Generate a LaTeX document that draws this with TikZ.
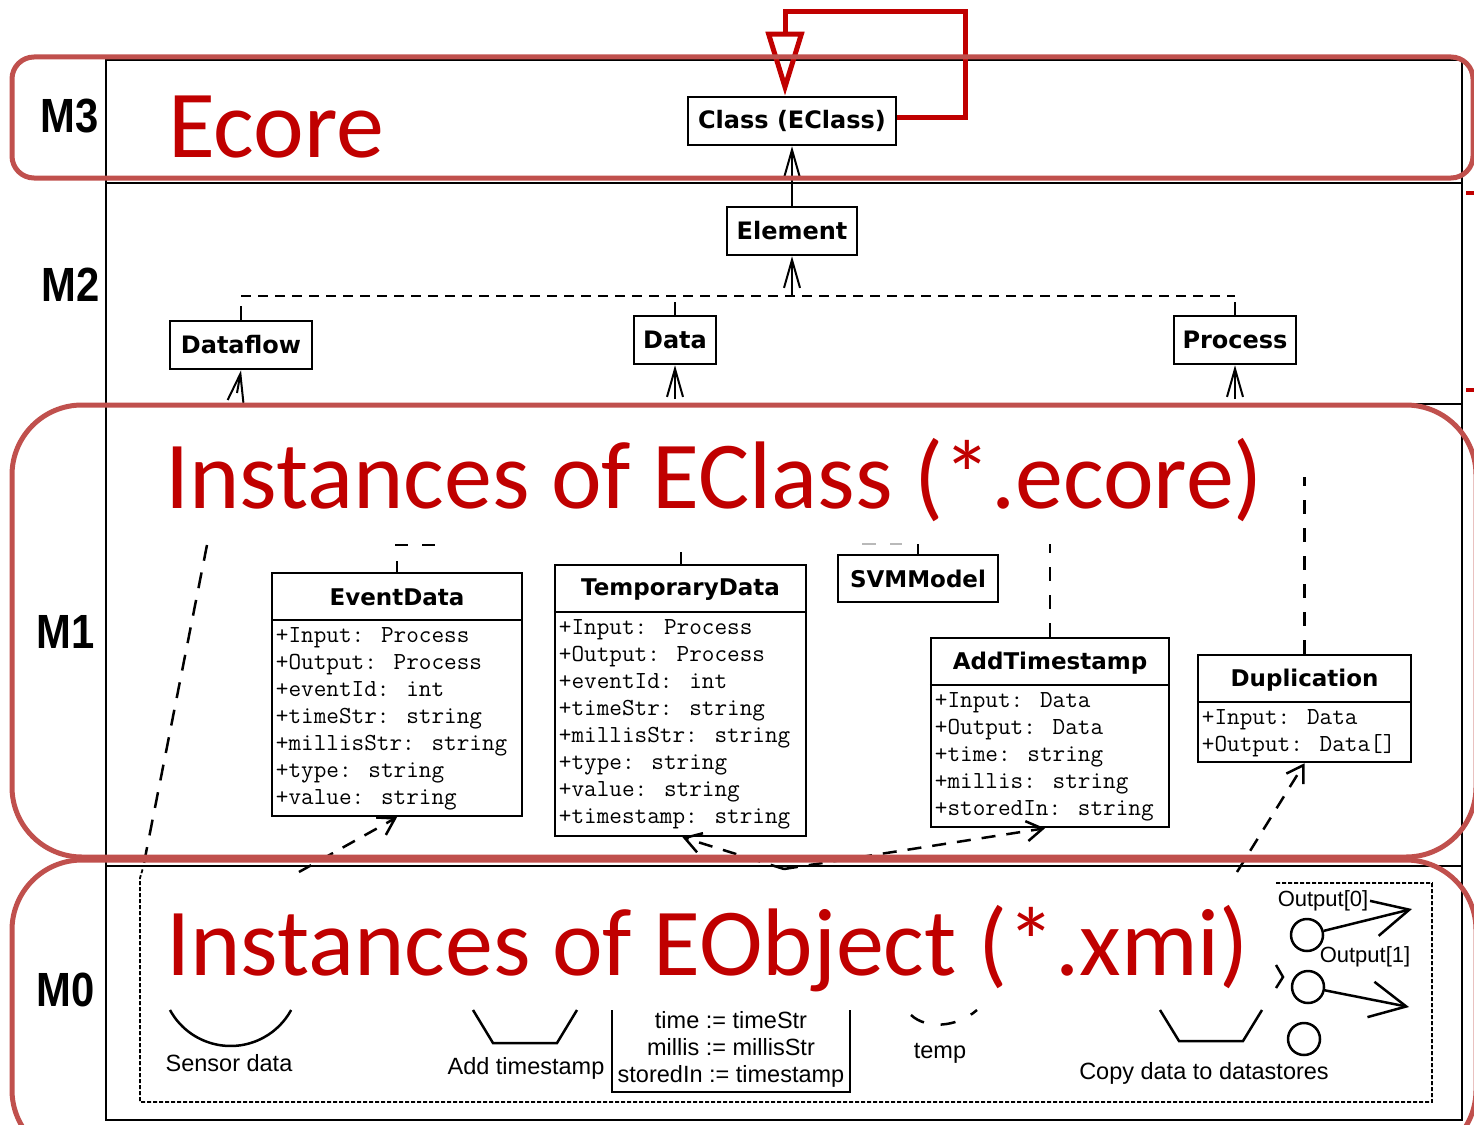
\documentclass[tikz,border=0pt]{standalone}
\usepackage{fontspec}
\usetikzlibrary{arrows.meta}
\setmainfont{Liberation Sans}
\newfontfamily\layerfont[FakeStretch=0.87]{Liberation Sans}
\newfontfamily\classfont{DejaVu Sans}
\newfontfamily\headfont{Carlito}
\definecolor{bandred}{HTML}{C0504D}
\definecolor{headred}{HTML}{C00000}

\tikzset{
  frameline/.style={line width=2.5pt, black},
  band/.style={draw=bandred, line width=5pt},
  layer/.style={font=\layerfont\bfseries\fontsize{48}{50}\selectfont, inner sep=0pt},
  heading/.style={font=\headfont\fontsize{96}{110}\selectfont, text=headred, inner sep=0pt, anchor=base west},
  metabox/.style={draw, line width=2.5pt, fill=white, inner sep=0pt, font=\classfont\bfseries\fontsize{24}{28}\selectfont},
  classframe/.style={draw, line width=2.5pt, inner sep=0pt},
  classname/.style={font=\classfont\bfseries\fontsize{23}{26}\selectfont, inner sep=0pt},
  attr/.style={font=\ttfamily\fontsize{24.5}{27}\selectfont, inner sep=0pt, anchor=base west},
  inherit/.style={line width=2pt, -{Straight Barb[length=28pt,width=16pt]}},
  stub/.style={line width=2pt},
  treeline/.style={line width=2.5pt, dash pattern=on 10pt off 7pt},
  instof/.style={line width=2.5pt, dash pattern=on 14pt off 11pt, -{Straight Barb[length=16pt,width=20pt]}},
  longdash/.style={line width=2.5pt, dash pattern=on 14pt off 14pt},
  mlabel/.style={font=\fontsize{23.5}{27}\selectfont, inner sep=0pt},
  shapeline/.style={line width=2.5pt},
  port/.style={draw, circle, line width=2.5pt, minimum size=32pt, inner sep=0pt},
  outflow/.style={line width=2.5pt, -{Straight Barb[length=36pt,width=36pt]}},
  selfloop/.style={draw=headred, line width=5pt, line join=miter, -{Triangle[open, length=64pt, width=38pt]}},
  portbox/.style={line width=1.8pt, dash pattern=on 4pt off 2pt},
}

% class with a 48pt header and one attribute per line
\newcommand\umlclass[6]{%
  \node[classframe, minimum width=#3pt, minimum height=#4pt] (#1) at (#2) {};
  \draw[stub] ([yshift=-48pt]#1.north west) -- ([yshift=-48pt]#1.north east);
  \node[classname] at ([yshift=-26pt]#1.north) {#5};
  \foreach \a [count=\i from 0] in {#6}
    \node[attr] at ([xshift=5pt, yshift={-71pt-27pt*\i}]#1.north west) {\a};
}

\begin{document}
\begin{tikzpicture}[x=1pt,y=-1pt]
\useasboundingbox (0,0) rectangle (1474,1124);

% frame of the four layers
\draw[frameline] (106,60) rectangle (1462,1120);
\draw[frameline] (106,183) -- (1462,183);
\draw[frameline] (106,404) -- (1462,404);
\draw[frameline] (106,866) -- (1462,866);

% layer names
\node[layer] at (70,116) {M3};
\node[layer] at (71,285) {M2};
\node[layer] at (66,632) {M1};
\node[layer] at (66,990) {M0};

% ---------- M3 ----------
\node[heading] at (168,157) {Ecore};
\node[metabox, minimum width=208pt, minimum height=48pt] (eclass) at (792,121) {Class (EClass)};
\draw[selfloop] ([yshift=4pt]eclass.east) -- (965,117) -- (965,12) -- (785,12) -- ([xshift=-7pt]eclass.north);

% ---------- M2 ----------
\node[metabox, minimum width=130pt, minimum height=48pt] (element) at (792,231) {Element};
\node[metabox, minimum width=142pt, minimum height=48pt] (dataflow) at (241,345) {Dataflow};
\node[metabox, minimum width=82pt, minimum height=48pt] (data) at (675,340) {Data};
\node[metabox, minimum width=122pt, minimum height=48pt] (process) at (1235,340) {Process};

\coordinate (tree) at (792,296);
\draw[treeline] (dataflow.north |- tree) -- (process.north |- tree);
\draw[stub] (dataflow.north) -- ++(0,-14);
\draw[stub] (data.north) -- ++(0,-13);
\draw[stub] (process.north) -- ++(0,-13);
\draw[inherit] (tree) -- (element.south);
\draw[inherit] (element.north) -- (eclass.south);

\coordinate (dfin) at (237,393);
\coordinate (dain) at (675,399);
\coordinate (prin) at (1235,399);
\draw[inherit] (dfin) -- (dataflow.south);
\draw[inherit] (dain) -- (data.south);
\draw[inherit] (prin) -- (process.south);

% ---------- M1 ----------
\node[heading] at (165,508) {Instances of EClass (*.ecore)};

\umlclass{eventdata}{397,694.5}{250}{243}{EventData}{+Input: Process,+Output: Process,+eventId: int,+timeStr: string,+millisStr: string,+type: string,+value: string}
\umlclass{tempdata}{680.5,700.5}{251}{271}{TemporaryData}{+Input: Process,+Output: Process,+eventId: int,+timeStr: string,+millisStr: string,+type: string,+value: string,+timestamp: string}
\umlclass{addts}{1050,732.5}{238}{189}{AddTimestamp}{+Input: Data,+Output: Data,+time: string,+millis: string,+storedIn: string}
\umlclass{dup}{1304.5,708.5}{213}{107}{Duplication}{+Input: Data,+Output: Data[]}
\node[classframe, classname, minimum width=160pt, minimum height=47pt] (svm) at (918,578.5) {SVMModel};

\draw[stub] (eventdata.north) -- ++(0,-11);
\draw[treeline, dash pattern=on 13pt off 14pt] ([xshift=-2pt, yshift=27pt]eventdata.north) -- ++(41,0);
\draw[stub] (tempdata.north) -- ++(0,-12);
\draw[stub] (svm.north) -- ++(0,-10);
\draw[treeline, gray!55, dash pattern=on 14pt off 14pt] ([xshift=-56pt, yshift=10pt]svm.north) -- ++(40,0);
\draw[longdash] (addts.north) -- ++(0,-93);
\draw[longdash] (dup.north) -- ++(0,-177);

\coordinate (leftup) at (207,545);
\coordinate (leftdown) at (143,868);
\draw[longdash, dash pattern=on 16pt off 12pt] (leftup) -- (leftdown);

% instance-of links coming up from M0
\coordinate (sensorup) at (299,872);
\coordinate (tempup) at (784,869);
\coordinate (copyup) at (1237,872);
\draw[instof] (sensorup) -- (eventdata.south);
\draw[instof] (tempup) -- ([xshift=2pt]tempdata.south);
\draw[instof] (tempup) -- ([xshift=-5pt]addts.south);
\draw[instof] (copyup) -- (dup.south);

% ---------- M0 ----------
\node[heading] at (166,975) {Instances of EObject (*.xmi)};

\draw[portbox] (1276,883) -- (1432,883) -- (1432,1102) -- (140,1102) -- (140,878) -- (143,868);

\draw[shapeline] (170,1010) arc[start angle=208.6, end angle=331.4, radius=69pt];
\node[mlabel] (sensorlbl) at (229,1063) {Sensor data};

\draw[shapeline] (473,1010) -- (493,1043) -- (557,1043) -- (577,1010);
\node[mlabel] (addlbl) at (526,1068) {Add timestamp};

\draw[shapeline] (612,1010) -- (612,1092) -- (850,1092) -- (850,1010);
\node[mlabel, align=center] (assign) at (731,1049) {time := timeStr\\millis := millisStr\\storedIn := timestamp};

\draw[shapeline, dash pattern=on 15pt off 17pt] (911,1015) .. controls (926,1029) and (956,1028) .. (977,1010);
\node[mlabel] (templbl) at (940,1053) {temp};

\draw[shapeline] (1160,1010) -- (1179,1041) -- (1243,1041) -- (1262,1010);
\node[mlabel] (copylbl) at (1204,1073) {Copy data to datastores};

\node[port] (p0) at (1307,935) {};
\node[port] (p1) at (1308,987) {};
\node[port] (p2) at (1304,1039) {};
\coordinate (o0) at (1412,909);
\coordinate (o1) at (1409,1007);
\draw[outflow] (p0) -- (o0);
\draw[outflow] (p1) -- (o1);
\node[mlabel, font=\fontsize{22}{24}\selectfont] at (1323,901) {Output[0]};
\node[mlabel, font=\fontsize{22}{24}\selectfont] at (1365,957) {Output[1]};
\draw[shapeline] (1276,965) -- (1283,977) -- (1276,988);

% ---------- layer bands ----------
\draw[band, rounded corners=22pt] (12,57) rectangle (1473,178);
\draw[band, rounded corners=70pt] (12,405) rectangle (1476,857);
\draw[band, rounded corners=70pt] (12,860) rectangle (1476,1160);
\draw[draw=headred, line width=4pt] (1466,193) -- (1474,193);
\draw[draw=headred, line width=4pt] (1466,390) -- (1474,390);
\end{tikzpicture}
\end{document}
